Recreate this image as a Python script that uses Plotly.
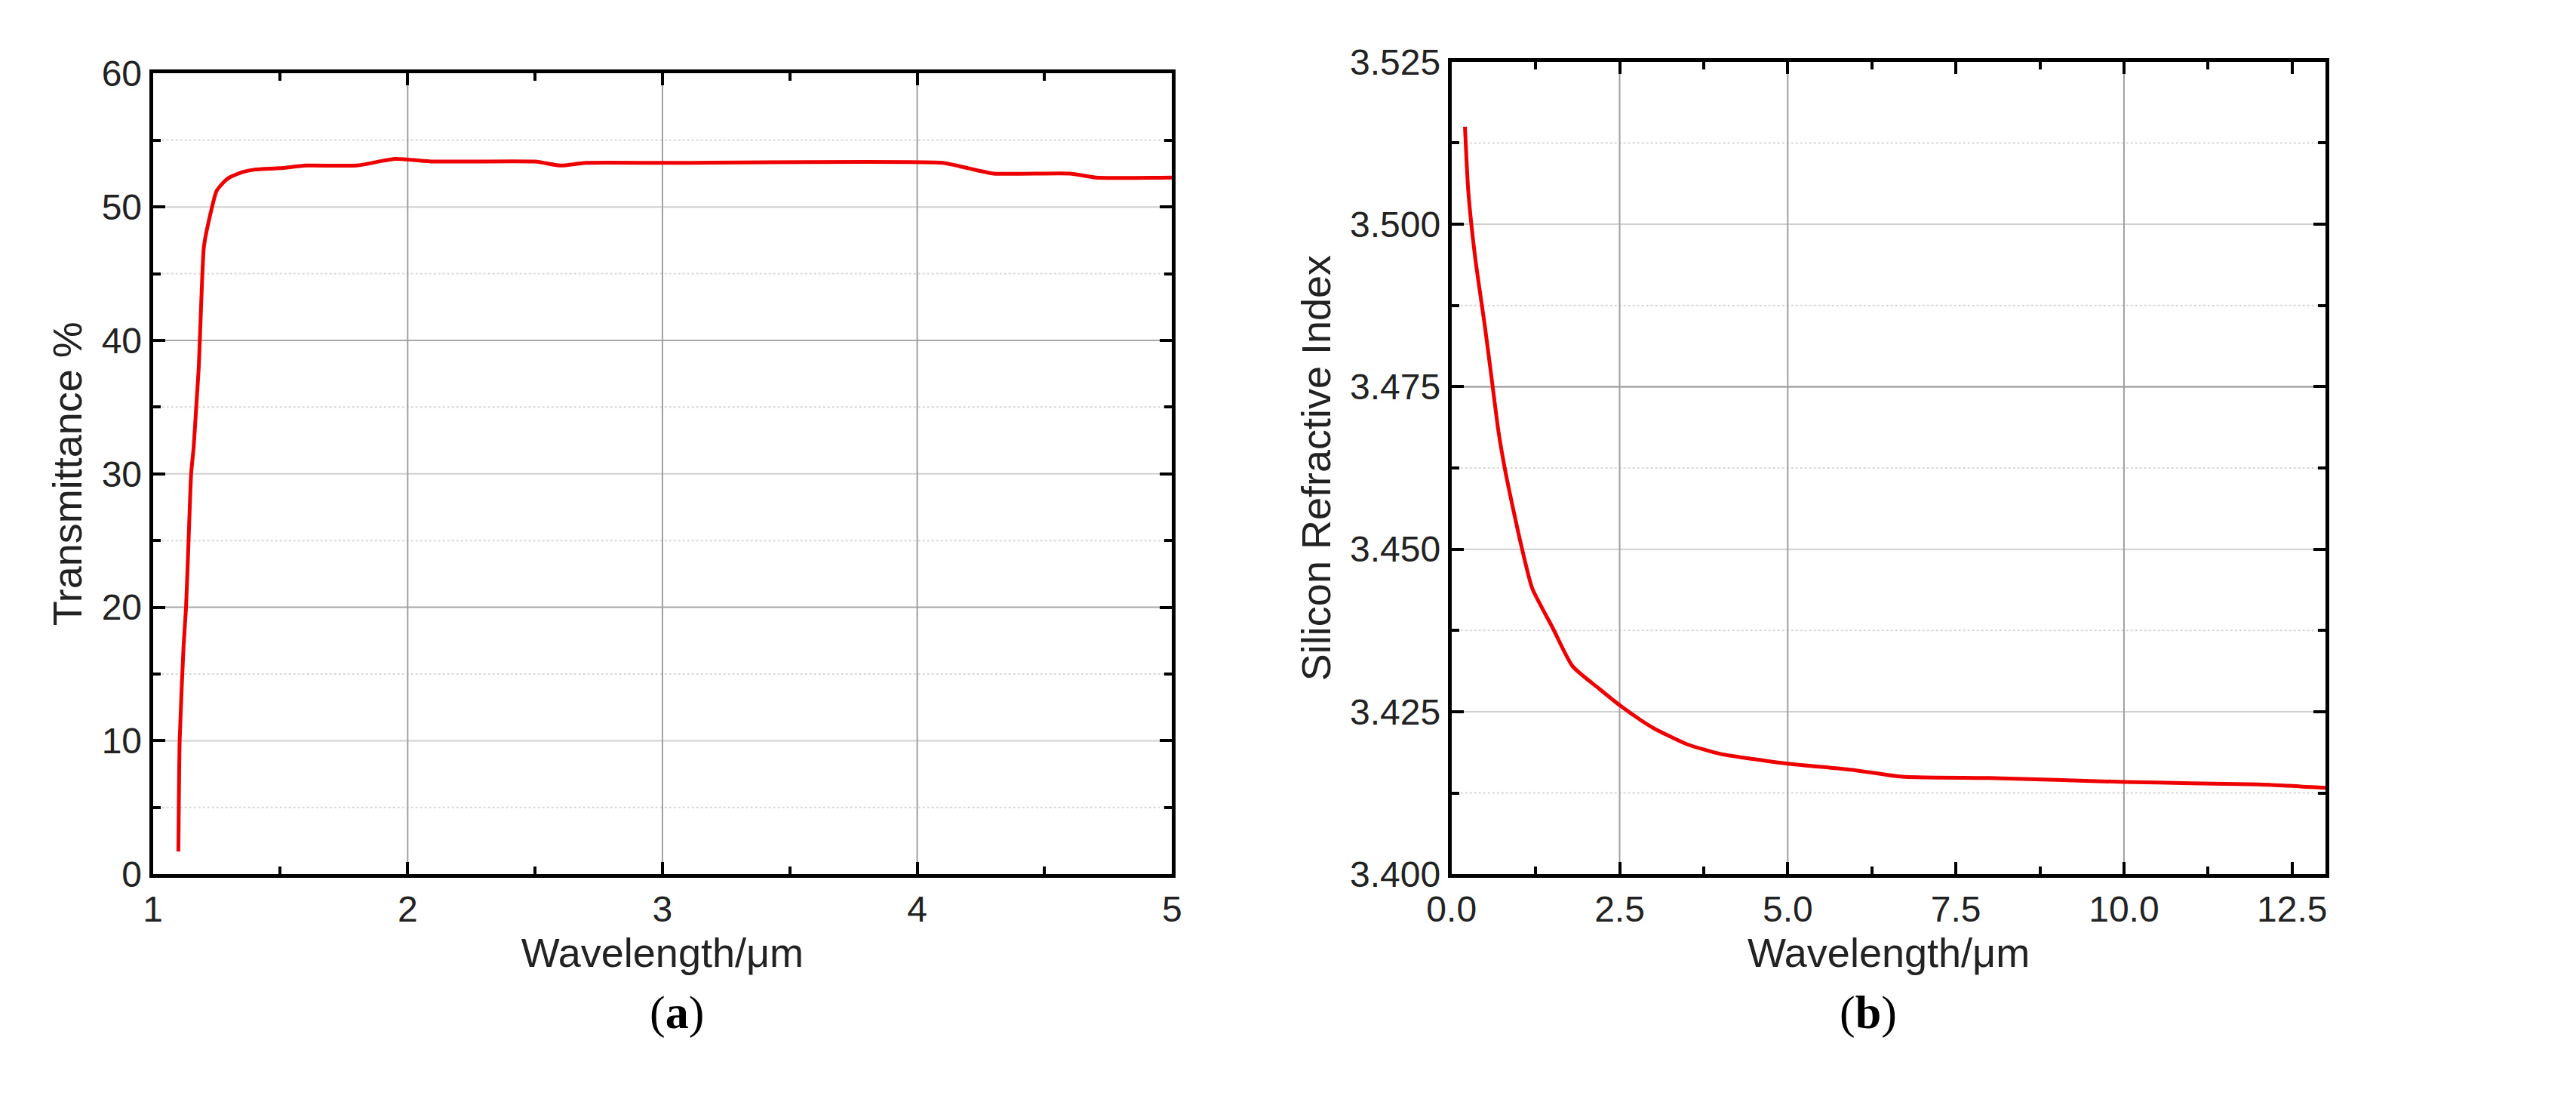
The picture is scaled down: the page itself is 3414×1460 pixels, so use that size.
import plotly.graph_objects as go

wl_a = [1.10, 1.105, 1.12, 1.13, 1.14, 1.15, 1.16, 1.17, 1.18, 1.19, 1.20, 1.22, 1.25, 1.28, 1.30, 1.35, 1.40, 1.50, 1.60, 1.80, 1.95, 2.10, 2.50, 2.60, 2.70, 3.00, 4.10, 4.20, 4.30, 4.60, 4.70, 5.00]
trans = [1.7, 10, 17, 20, 25, 30, 32, 35, 38, 43, 47, 49, 51.2, 51.9, 52.2, 52.6, 52.8, 52.9, 53.1, 53.1, 53.6, 53.4, 53.4, 53.1, 53.3, 53.3, 53.3, 52.9, 52.5, 52.5, 52.2, 52.2]

wl_b = [0.2, 0.25, 0.35, 0.5, 0.6, 0.7, 0.8, 0.9, 1.05, 1.2, 1.5, 1.8, 2.2, 2.5, 2.8, 3.0, 3.5, 4.0, 4.5, 5.0, 6.0, 6.7, 8.0, 9.0, 10.0, 11.0, 12.0, 13.0]
n_si = [3.515, 3.505, 3.495, 3.484, 3.476, 3.468, 3.462, 3.457, 3.450, 3.444, 3.438, 3.432, 3.4285, 3.426, 3.4238, 3.4225, 3.420, 3.4185, 3.4177, 3.417, 3.416, 3.415, 3.4148, 3.4145, 3.4142, 3.4140, 3.4138, 3.4133]

xa_ticks = [1, 2, 3, 4, 5]
ya_ticks = [0, 10, 20, 30, 40, 50, 60]
xb_ticks = [0.0, 2.5, 5.0, 7.5, 10.0, 12.5]
yb_ticks = [3.400, 3.425, 3.450, 3.475, 3.500, 3.525]

RED = "#ee0000"
fig = go.Figure()
fig.add_trace(go.Scatter(x=wl_a, y=trans, mode="lines", line=dict(color=RED, width=5, shape="spline", smoothing=0.5), xaxis="x", yaxis="y"))
fig.add_trace(go.Scatter(x=wl_b, y=n_si, mode="lines", line=dict(color=RED, width=5, shape="spline", smoothing=0.6), xaxis="x2", yaxis="y2"))

font = dict(family="Liberation Sans, Arial", size=48, color="#222")
tfont = dict(family="Liberation Sans, Arial", size=54, color="#222")
def ax(**kw):
    d = dict(showline=True, mirror="allticks", linecolor="black", linewidth=5, ticks="inside",
             ticklen=16, tickwidth=4, tickcolor="black", tickfont=font, zeroline=False,
             showgrid=False)
    d.update(kw)
    return d
def mn(dt):
    return dict(ticks="inside", ticklen=10, tickwidth=4, tickcolor="black", dtick=dt)

fig.update_layout(
    width=3414, height=1460, margin=dict(l=0, r=0, t=0, b=0),
    paper_bgcolor="white", plot_bgcolor="white", showlegend=False,
    xaxis=ax(domain=[0.048, 0.449], range=[1, 5], tickvals=xa_ticks, anchor="y",
             title=dict(text="Wavelength/μm", font=tfont, standoff=15), minor=mn(0.5)),
    yaxis=ax(domain=[0.201, 0.955], range=[0, 60], tickvals=ya_ticks, anchor="x",
             title=dict(text="Transmittance %", font=tfont, standoff=10), minor=mn(5)),
    xaxis2=ax(domain=[0.559, 0.903], range=[0, 13], tickvals=xb_ticks, ticktext=["0.0", "2.5", "5.0", "7.5", "10.0", "12.5"], anchor="y2",
              title=dict(text="Wavelength/μm", font=tfont, standoff=15), minor=mn(1.25)),
    yaxis2=ax(domain=[0.201, 0.966], range=[3.400, 3.525], tickvals=yb_ticks, tickformat=".3f", anchor="x2",
              title=dict(text="Silicon Refractive Index", font=tfont, standoff=10), minor=mn(0.0125)),
)

shapes = []
def hline(xr, yr, y, color, dash="solid", w=2):
    shapes.append(dict(type="line", xref=xr + " domain", yref=yr, x0=0, x1=1, y0=y, y1=y, layer="below",
                       line=dict(color=color, width=w, dash=dash)))
def vline(xr, yr, x, color, w=2):
    shapes.append(dict(type="line", xref=xr, yref=yr + " domain", x0=x, x1=x, y0=0, y1=1, layer="below",
                       line=dict(color=color, width=w)))

for y in [10, 30, 50]:
    hline("x", "y", y, "#d0d0d0")
for y in [20, 40]:
    hline("x", "y", y, "#a8a8a8")
for y in [5, 15, 25, 35, 45, 55]:
    hline("x", "y", y, "#d8d8d8", "dot")
for x in [2, 3, 4]:
    vline("x", "y", x, "#a0a0a0")

for y in [3.425, 3.450, 3.500]:
    hline("x2", "y2", y, "#d0d0d0")
hline("x2", "y2", 3.475, "#909090")
for y in [3.4125, 3.4375, 3.4625, 3.4875, 3.5125]:
    hline("x2", "y2", y, "#d8d8d8", "dot")
for x in [2.5, 5.0, 10.0]:
    vline("x2", "y2", x, "#a0a0a0")
fig.update_layout(shapes=shapes)

fig.add_annotation(text="(<b>a</b>)", xref="paper", yref="paper", x=0.243, y=0.045, showarrow=False,
                   font=dict(family="Liberation Serif, Times New Roman", size=62, color="black"))
fig.add_annotation(text="(<b>b</b>)", xref="paper", yref="paper", x=0.735, y=0.045, showarrow=False,
                   font=dict(family="Liberation Serif, Times New Roman", size=62, color="black"))

fig.write_html("out.html")
